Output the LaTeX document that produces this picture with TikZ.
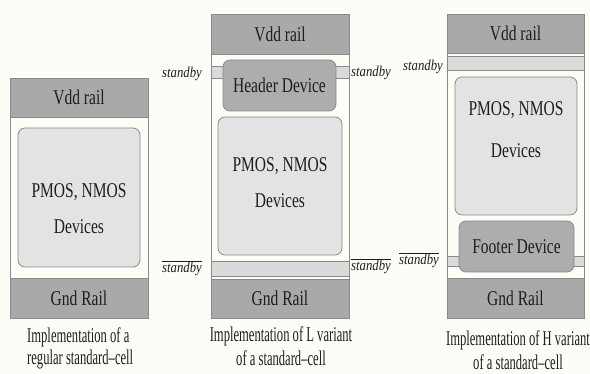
\documentclass[tikz,border=0pt]{standalone}
\usepackage{fontspec}
\setmainfont{Liberation Serif}
\newfontfamily\cellfont{Liberation Serif}[FakeStretch=0.74]
\newfontfamily\capfont{Liberation Serif}[FakeStretch=0.6]
\newfontfamily\sbfont{Liberation Serif}[FakeStretch=0.85]

\definecolor{bgcream}{HTML}{FDFDF8}
\definecolor{railgray}{HTML}{A9A9A9}
\definecolor{devgray}{HTML}{ADADAD}
\definecolor{boxlight}{HTML}{E3E3E3}
\definecolor{bandlight}{HTML}{DADADA}
\definecolor{edgegray}{HTML}{8A8A8A}
\definecolor{inkdark}{HTML}{1E1E1E}

\newcommand{\sbtext}{\sbfont\itshape\fontsize{15}{17}\selectfont standby}

\tikzset{
  cellbox/.style={inner sep=0pt, outer sep=0pt, draw=edgegray, line width=0.8pt},
  rail/.style={cellbox, fill=railgray},
  band/.style={cellbox, fill=bandlight},
  devbox/.style={cellbox, fill=boxlight, rounded corners=7pt},
  switchbox/.style={cellbox, fill=devgray, rounded corners=7pt},
  celllabel/.style={text=inkdark, inner sep=0pt, font=\cellfont\fontsize{21}{24}\selectfont},
  caption/.style={text=inkdark, inner sep=0pt, font=\capfont\fontsize{21}{22}\selectfont},
  sblabel/.style={text=inkdark, inner sep=0pt, font=\sbfont\itshape\fontsize{15}{17}\selectfont},
  sidewall/.style={draw=edgegray, line width=0.8pt},
}

\begin{document}
\begin{tikzpicture}[x=1pt, y=-1pt]
  % canvas
  \fill[bgcream] (0,0) rectangle (590,374);
  \useasboundingbox (0,0) rectangle (590,374);

  % ---------- regular standard cell ----------
  \node[rail, minimum width=138pt, minimum height=39pt] (vddA) at (79,97.5) {};
  \node[rail, minimum width=138pt, minimum height=40pt] (gndA) at (79,298) {};
  \draw[sidewall] (vddA.south west) -- (gndA.north west);
  \draw[sidewall] (vddA.south east) -- (gndA.north east);
  \node[devbox, minimum width=122pt, minimum height=139pt] (devA) at (79,197.5) {};
  \node[celllabel] (vddAt) at (vddA.center) {Vdd rail};
  \node[celllabel] (gndAt) at (gndA.center) {Gnd Rail};
  \node[celllabel] (devAt1) at (79,192) {PMOS, NMOS};
  \node[celllabel] (devAt2) at (79,227) {Devices};
  \node[caption, anchor=west] (capA1) at (27,337) {Implementation of a};
  \node[caption, anchor=west] (capA2) at (27,359) {regular standard–cell};

  % ---------- L variant (header switch) ----------
  \node[rail, minimum width=138pt, minimum height=40pt] (vddB) at (280,34) {};
  \node[rail, minimum width=138pt, minimum height=39pt] (gndB) at (280,298.5) {};
  \draw[sidewall] (vddB.south west) -- (gndB.north west);
  \draw[sidewall] (vddB.south east) -- (gndB.north east);
  \node[band, minimum width=138pt, minimum height=12pt] (bandB1) at (280,72) {};
  \node[switchbox, minimum width=113pt, minimum height=51pt] (hdrB) at (279.5,85.5) {};
  \node[devbox, minimum width=124pt, minimum height=138pt] (devB) at (280,186) {};
  \node[band, minimum width=138pt, minimum height=15pt] (bandB2) at (280,268.5) {};
  \node[celllabel] (vddBt) at (vddB.center) {Vdd rail};
  \node[celllabel] (gndBt) at (gndB.center) {Gnd Rail};
  \node[celllabel] (hdrBt) at (hdrB.center) {Header Device};
  \node[celllabel] (devBt1) at (280,166) {PMOS, NMOS};
  \node[celllabel] (devBt2) at (280,201) {Devices};
  \node[sblabel] (sbB1) at (182,74) {standby};
  \node[sblabel] (sbB2) at (371,73) {standby};
  \node[sblabel] (sbB3) at (182,268) {$\overline{\mbox{\sbtext}}$};
  \node[sblabel] (sbB4) at (371,266) {$\overline{\mbox{\sbtext}}$};
  \node[caption] (capB1) at (281,336) {Implementation of L variant};
  \node[caption] (capB2) at (281,358) {of a standard–cell};

  % ---------- H variant (footer switch) ----------
  \node[rail, minimum width=137pt, minimum height=39pt] (vddC) at (515.5,33.5) {};
  \node[rail, minimum width=137pt, minimum height=40pt] (gndC) at (515.5,298) {};
  \draw[sidewall] (vddC.south west) -- (gndC.north west);
  \draw[sidewall] (vddC.south east) -- (gndC.north east);
  \node[band, minimum width=137pt, minimum height=14pt] (bandC1) at (515.5,63) {};
  \node[devbox, minimum width=122pt, minimum height=138pt] (devC) at (516,146) {};
  \node[band, minimum width=137pt, minimum height=10pt] (bandC2) at (515.5,261) {};
  \node[switchbox, minimum width=115pt, minimum height=51pt] (ftrC) at (516.5,246.5) {};
  \node[celllabel] (vddCt) at (vddC.center) {Vdd rail};
  \node[celllabel] (gndCt) at (gndC.center) {Gnd Rail};
  \node[celllabel] (ftrCt) at (ftrC.center) {Footer Device};
  \node[celllabel] (devCt1) at (516,110) {PMOS, NMOS};
  \node[celllabel] (devCt2) at (516,151) {Devices};
  \node[sblabel] (sbC1) at (423,67) {standby};
  \node[sblabel] (sbC2) at (419,260) {$\overline{\mbox{\sbtext}}$};
  \node[caption] (capC1) at (518,340) {Implementation of H variant};
  \node[caption] (capC2) at (518,362) {of a standard–cell};
\end{tikzpicture}
\end{document}
